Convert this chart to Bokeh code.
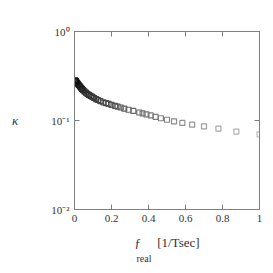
import numpy as np
from bokeh.plotting import figure
from bokeh.models import (Range1d, FixedTicker, LinearAxis, LogAxis, Title,
                          ColumnDataSource)
from bokeh.embed import file_html
from bokeh.resources import INLINE

# data
f_real = [1.0, 0.875, 0.778, 0.7, 0.636, 0.583, 0.538, 0.5, 0.467, 0.438,
          0.412, 0.389, 0.368, 0.35, 0.318, 0.292, 0.269, 0.25, 0.233, 0.219,
          0.2, 0.184, 0.171, 0.156, 0.14, 0.127, 0.117, 0.106, 0.097, 0.0875,
          0.078, 0.07, 0.061, 0.054, 0.047, 0.04, 0.035, 0.029, 0.023,
          0.0175, 0.0127, 0.0088, 0.006, 0.004]
kappa = [0.070, 0.075, 0.081, 0.086, 0.090, 0.094, 0.098, 0.102, 0.106, 0.110,
         0.114, 0.117, 0.120, 0.123, 0.128, 0.132, 0.136, 0.140, 0.143, 0.146,
         0.150, 0.154, 0.157, 0.160, 0.165, 0.170, 0.174, 0.179, 0.184, 0.189,
         0.194, 0.199, 0.206, 0.212, 0.219, 0.227, 0.234, 0.242, 0.251,
         0.259, 0.266, 0.273, 0.278, 0.282]
x_ticks = [0, 0.2, 0.4, 0.6, 0.8, 1]
x_tick_labels = ["0", "0.2", "0.4", "0.6", "0.8", "1"]
y_ticks = [0.01, 0.1, 1]
y_tick_labels = ["10\u207b\u00b2", "10\u207b\u00b9", "10\u2070"]

# style: grey level grows with f_real
xs = np.array(f_real)
g = np.clip(190 * np.sqrt(xs), 0, 200).astype(int)
colors = ["#%02x%02x%02x" % (v, v, v) for v in g]
src = ColumnDataSource(dict(x=f_real, y=kappa, c=colors))

AX = "#808080"
FONT = "Liberation Serif"
TXT = "#333333"
NB = "\u00a0"

p = figure(width=265, height=265, output_backend="svg", toolbar_location=None,
           y_axis_type="log", x_range=Range1d(0, 1), y_range=Range1d(0.01, 1),
           min_border_left=74, min_border_right=6, min_border_top=31,
           min_border_bottom=52)
p.grid.visible = False
p.outline_line_color = AX
p.background_fill_color = "white"
p.border_fill_color = "white"

p.scatter("x", "y", source=src, marker="square", size=5, fill_alpha=0,
          line_color="c", line_width=1.2)

def style(ax, labels=True):
    ax.axis_line_color = AX
    ax.major_tick_line_color = AX
    ax.minor_tick_line_color = None
    ax.major_tick_in = 5
    ax.major_tick_out = 0
    ax.major_label_text_font = FONT
    ax.major_label_text_font_size = "11px"
    ax.major_label_text_color = TXT
    if not labels:
        ax.major_label_text_font_size = "1px"
        ax.major_label_text_alpha = 0
        ax.major_label_standoff = 0

xa = p.xaxis[0]
xa.ticker = FixedTicker(ticks=x_ticks, minor_ticks=[])
xa.major_label_overrides = {t: s for t, s in zip(x_ticks, x_tick_labels)}
style(xa)
xa.major_label_standoff = 5
xa.axis_label = "\u0192" + NB * 5 + "[1/Tsec]"
xa.axis_label_standoff = 10
xa.axis_label_text_font = FONT
xa.axis_label_text_font_style = "normal"
xa.axis_label_text_font_size = "13px"
xa.axis_label_text_line_height = 0.3
xa.axis_label_text_color = TXT

ya = p.yaxis[0]
ya.ticker = FixedTicker(ticks=y_ticks, minor_ticks=[])
ya.major_label_overrides = {t: s for t, s in zip(y_ticks, y_tick_labels)}
style(ya)
ya.major_label_standoff = 5
ya.axis_label = "\u03ba"
ya.axis_label_orientation = "horizontal"
ya.axis_label_standoff = 30
ya.axis_label_text_font = FONT
ya.axis_label_text_font_style = "italic"
ya.axis_label_text_font_size = "13px"
ya.axis_label_text_color = TXT

top = LinearAxis(ticker=FixedTicker(ticks=x_ticks, minor_ticks=[]))
top.major_label_overrides = {t: " " for t in x_ticks}
style(top, labels=False)
p.add_layout(top, "above")
right = LogAxis(ticker=FixedTicker(ticks=y_ticks, minor_ticks=[]))
right.major_label_overrides = {t: " " for t in y_ticks}
style(right, labels=False)
p.add_layout(right, "right")

# subscript "real" of f_real, placed under the axis label
p.add_layout(Title(text="real", align="left", offset=62, standoff=0,
                   vertical_align="top",
                   text_font=FONT, text_font_size="10px",
                   text_font_style="normal", text_color=TXT), "below")

open("out.html", "w").write(file_html(p, INLINE))
